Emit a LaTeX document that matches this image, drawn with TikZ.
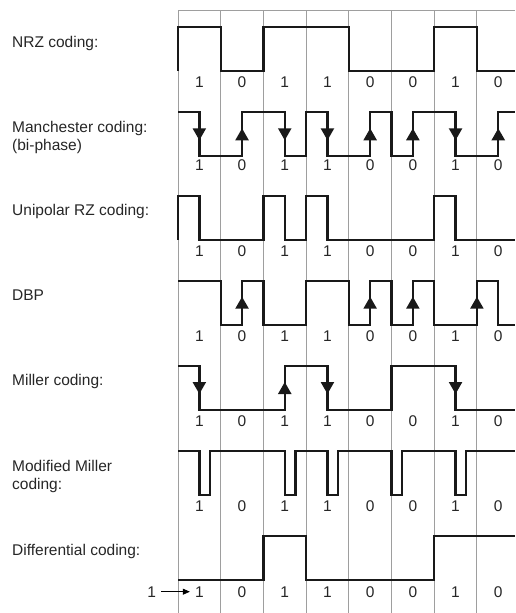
\documentclass[tikz,border=0pt]{standalone}
\usepackage{fontspec}
\setmainfont{Liberation Sans}
\usetikzlibrary{arrows.meta}
\usepackage{xcolor}

\begin{document}
\begin{tikzpicture}[x=1pt,y=-1pt]
	\tikzstyle{every node}=[font=\fontsize{15.5}{18}\selectfont, text=black!85, inner sep=0pt]
	\tikzstyle{grid}=[draw=black!38, line width=0.9pt]
	\tikzstyle{wave}=[draw=black!90, line width=2.3pt]
	\tikzstyle{tipdn}=[wave, -{Triangle[width=13pt,length=12pt]}]
	\useasboundingbox (0,0) rectangle (515,613);

	% time grid
	\draw [grid] (178,10) -- (515,10);
	\foreach \i in {0,...,7}
		\draw [grid] (178+42.7*\i,10) -- (178+42.7*\i,613);

	% NRZ
	\draw (12,47.3) node (nrz) [anchor=base west] {NRZ coding:};
	\begin{scope}[shift={(178,26.7)}, x=42.7pt]
		\draw [wave] (0,44) -- (0,0) -- (1,0) -- (1,44) -- (2,44) -- (2,0) -- (4,0) -- (4,44) -- (6,44) -- (6,0) -- (7,0) -- (7,44) -- (7.89,44);
		\foreach \b [count=\i] in {1,0,1,1,0,0,1,0}
			\draw (\i-0.5,55) node (nrz\i) {\b};
	\end{scope}

	% Manchester
	\draw (12,150.3) node (manch) [anchor=base west, align=left] {Manchester coding:\\(bi-phase)};
	\begin{scope}[shift={(178,112.3)}, x=42.7pt]
		\draw [wave] (0,0) -- (0.5,0) -- (0.5,44) -- (1.5,44) -- (1.5,0) -- (2.5,0) -- (2.5,44) -- (3,44) -- (3,0) -- (3.5,0) -- (3.5,44) -- (4.5,44) -- (4.5,0) -- (5,0) -- (5,44) -- (5.5,44) -- (5.5,0) -- (6.5,0) -- (6.5,44) -- (7.5,44) -- (7.5,0) -- (7.89,0);
		\foreach \x in {0.5,2.5,3.5,6.5}
			\draw [tipdn] (\x,0) -- (\x,28);
		\foreach \x in {1.5,4.5,5.5,7.5}
			\draw [tipdn] (\x,44) -- (\x,16);
		\foreach \b [count=\i] in {1,0,1,1,0,0,1,0}
			\draw (\i-0.5,53) node (manch\i) {\b};
	\end{scope}

	% unipolar RZ
	\draw (12,215.6) node (urz) [anchor=base west] {Unipolar RZ coding:};
	\begin{scope}[shift={(178,195.7)}, x=42.7pt]
		\draw [wave] (0,44) -- (0,0) -- (0.5,0) -- (0.5,44) -- (2,44) -- (2,0) -- (2.5,0) -- (2.5,44) -- (3,44) -- (3,0) -- (3.5,0) -- (3.5,44) -- (6,44) -- (6,0) -- (6.5,0) -- (6.5,44) -- (7.89,44);
		\foreach \b [count=\i] in {1,0,1,1,0,0,1,0}
			\draw (\i-0.5,55) node (urz\i) {\b};
	\end{scope}

	% DBP
	\draw (12,300.6) node (dbp) [anchor=base west] {DBP};
	\begin{scope}[shift={(178,280.7)}, x=42.7pt]
		\draw [wave] (0,0) -- (1,0) -- (1,44) -- (1.5,44) -- (1.5,0) -- (2,0) -- (2,44) -- (3,44) -- (3,0) -- (4,0) -- (4,44) -- (4.5,44) -- (4.5,0) -- (5,0) -- (5,44) -- (5.5,44) -- (5.5,0) -- (6,0) -- (6,44) -- (7,44) -- (7,0) -- (7.5,0) -- (7.5,44) -- (7.89,44);
		\foreach \x in {1.5,4.5,5.5,7}
			\draw [tipdn] (\x,44) -- (\x,16);
		\foreach \b [count=\i] in {1,0,1,1,0,0,1,0}
			\draw (\i-0.5,55) node (dbp\i) {\b};
	\end{scope}

	% Miller
	\draw (12,385.6) node (miller) [anchor=base west] {Miller coding:};
	\begin{scope}[shift={(178,366)}, x=42.7pt]
		\draw [wave] (0,0) -- (0.5,0) -- (0.5,44) -- (2.5,44) -- (2.5,0) -- (3.5,0) -- (3.5,44) -- (5,44) -- (5,0) -- (6.5,0) -- (6.5,44) -- (7.89,44);
		\foreach \x in {0.5,3.5,6.5}
			\draw [tipdn] (\x,0) -- (\x,28);
		\draw [tipdn] (2.5,44) -- (2.5,16);
		\foreach \b [count=\i] in {1,0,1,1,0,0,1,0}
			\draw (\i-0.5,55) node (miller\i) {\b};
	\end{scope}

	% modified Miller
	\draw (12,489.4) node (mmiller) [anchor=base west, align=left] {Modified Miller\\coding:};
	\begin{scope}[shift={(178,451)}, x=42.7pt]
		\draw [wave] (0,0) foreach \p in {0.5,2.5,3.5,5,6.5} { -- (\p,0) -- (\p,44) -- (\p+0.25,44) -- (\p+0.25,0) } -- (7.89,0);
		\foreach \b [count=\i] in {1,0,1,1,0,0,1,0}
			\draw (\i-0.5,55) node (mmiller\i) {\b};
	\end{scope}

	% differential
	\draw (12,555) node (diff) [anchor=base west] {Differential coding:};
	\begin{scope}[shift={(178,535.7)}, x=42.7pt]
		\draw [wave] (0,44) -- (2,44) -- (2,0) -- (3,0) -- (3,44) -- (6,44) -- (6,0) -- (7.89,0);
		\foreach \b [count=\i] in {1,0,1,1,0,0,1,0}
			\draw (\i-0.5,56) node (diff\i) {\b};
	\end{scope}
	\draw (151.7,591.7) node (init) {1};
	\draw [line width=0.8pt, -{Triangle[width=6pt,length=7pt]}, shorten <=5pt, shorten >=5pt] (init) -- (diff1);
\end{tikzpicture}
\end{document}
